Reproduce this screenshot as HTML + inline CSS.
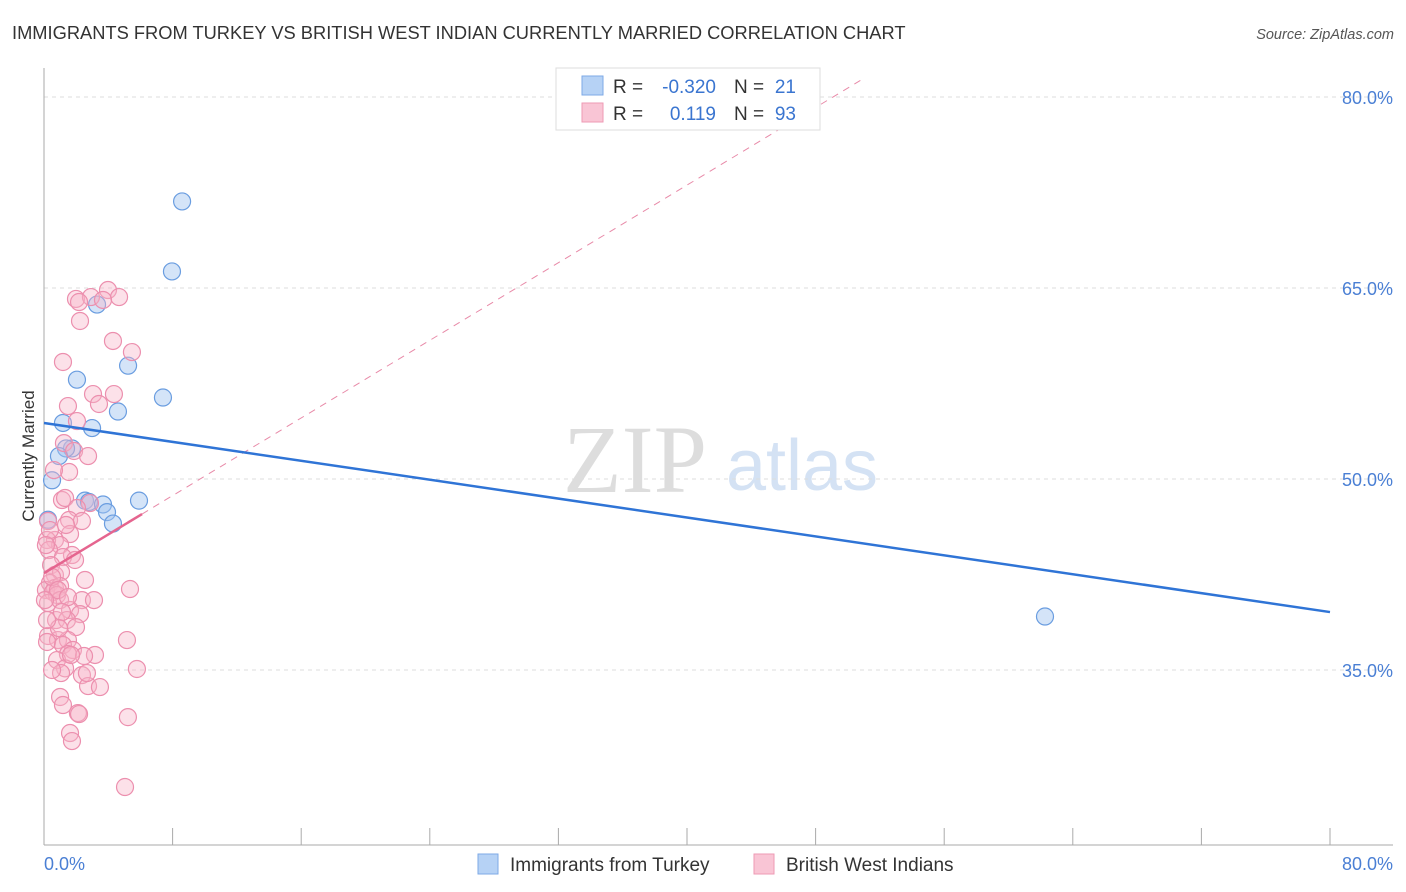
<!DOCTYPE html>
<html><head><meta charset="utf-8"><style>
body{margin:0;background:#fff;font-family:"Liberation Sans",sans-serif;}
svg{display:block}
</style></head><body>
<svg id="chart" width="1406" height="892" viewBox="0 0 1406 892">
<text x="12" y="39" font-size="18.3" fill="#333">IMMIGRANTS FROM TURKEY VS BRITISH WEST INDIAN CURRENTLY MARRIED CORRELATION CHART</text>
<text x="1394" y="39" font-size="14.5" fill="#555" font-style="italic" text-anchor="end">Source: ZipAtlas.com</text>
<g>
<text x="635" y="492" font-size="96" fill="#dddddd" font-family="Liberation Serif,serif" text-anchor="middle">ZIP</text>
<text x="802" y="490" font-size="72" fill="#d4e2f4" text-anchor="middle">atlas</text>
</g>
<g id="grid"></g>
<g id="axes"></g>
<g id="marks"></g>
<text transform="translate(34,456) rotate(-90)" font-size="17" fill="#333" text-anchor="middle">Currently Married</text>
<text x="44" y="870" font-size="18" fill="#4a7fd4">0.0%</text>
<text x="1393" y="870" font-size="18" fill="#4a7fd4" text-anchor="end">80.0%</text>
<g>
<rect x="556" y="68" width="264" height="62" fill="#fff" stroke="#ddd"/>
<rect x="582" y="76" width="21" height="19" fill="#b6d2f5" stroke="#7ea9e6"/>
<rect x="582" y="103" width="21" height="19" fill="#f9c5d5" stroke="#ee9ab4"/>
<text x="613" y="93" font-size="19" fill="#333">R =</text>
<text x="716" y="93" font-size="19" fill="#3a75d0" text-anchor="end">-0.320</text>
<text x="734" y="93" font-size="19" fill="#333">N =</text>
<text x="796" y="93" font-size="19" fill="#3a75d0" text-anchor="end">21</text>
<text x="613" y="120" font-size="19" fill="#333">R =</text>
<text x="716" y="120" font-size="19" fill="#3a75d0" text-anchor="end">0.119</text>
<text x="734" y="120" font-size="19" fill="#333">N =</text>
<text x="796" y="120" font-size="19" fill="#3a75d0" text-anchor="end">93</text>
</g>
<g>
<rect x="478" y="854" width="20" height="20" fill="#b6d2f5" stroke="#7ea9e6"/>
<text x="510" y="871" font-size="19" fill="#333">Immigrants from Turkey</text>
<rect x="754" y="854" width="20" height="20" fill="#f9c5d5" stroke="#ee9ab4"/>
<text x="786" y="871" font-size="19" fill="#333">British West Indians</text>
</g>
</svg>
<script>
const yTicks=[80,65,50,35];
const yTickLabels=["80.0%","65.0%","50.0%","35.0%"];
const xTicks=[0,8,16,24,32,40,48,56,64,72,80];
const blueX=[8.59,7.96,3.30,5.23,2.05,7.40,4.60,1.18,2.99,1.74,1.37,0.93,0.50,2.55,2.80,3.67,3.92,5.91,4.29,0.25,62.27];
const blueY=[71.8,66.3,63.7,58.9,57.8,56.4,55.3,54.4,54.0,52.4,52.4,51.8,49.9,48.3,48.2,48.0,47.4,48.3,46.5,46.8,39.2];
const pinkX=[3.98,1.99,2.92,2.18,4.67,3.67,2.24,4.29,5.47,1.18,3.05,4.35,3.42,1.49,2.05,1.24,1.87,2.74,1.56,1.12,1.31,2.86,2.05,1.56,2.36,0.25,1.62,0.68,0.19,1.00,1.74,0.31,1.18,0.44,0.68,1.06,5.35,0.37,0.68,1.00,0.12,0.56,0.81,2.36,0.25,1.00,1.62,2.24,0.75,1.43,1.99,0.25,0.87,1.49,5.16,0.19,1.18,1.80,1.49,3.17,0.81,2.49,1.31,1.06,2.36,2.74,5.78,2.67,3.48,5.22,2.11,2.18,1.62,1.74,5.04,0.37,0.12,0.50,0.87,1.49,0.06,1.12,0.93,1.68,0.50,1.00,1.18,1.93,1.37,2.55,3.11,0.19,0.62];
const pinkY=[64.84,64.14,64.29,63.90,64.29,64.06,62.41,60.84,59.97,59.19,56.67,56.67,55.89,55.73,54.55,52.82,52.20,51.80,50.55,48.35,48.51,48.11,47.72,46.78,46.70,46.70,45.68,45.21,45.21,44.81,44.03,44.42,43.87,43.24,42.46,42.69,41.36,41.83,41.44,41.59,41.28,41.12,40.89,40.49,40.26,40.49,39.71,39.39,38.92,38.92,38.37,37.67,37.35,37.35,37.35,37.20,36.96,36.57,36.25,36.18,35.78,36.10,35.13,34.76,34.60,33.74,35.08,34.76,33.66,31.30,31.62,31.54,30.05,29.42,25.81,45.99,44.81,42.30,41.28,40.73,40.49,39.55,38.29,36.18,35.00,32.88,32.25,43.64,46.39,42.07,40.49,38.92,50.70];
const blueTrend=[54.4,39.55];
const pinkTrend=[42.6,0.762];
const pinkSolidEnd=6.1, pinkDashEnd=50.8;

const NS="http://www.w3.org/2000/svg";
const sx=v=>44+v/80*1286;
const sy=v=>97+(80-v)*(191/15);
function mk(tag,attrs,parent){const e=document.createElementNS(NS,tag);for(const k in attrs)e.setAttribute(k,attrs[k]);parent.appendChild(e);return e;}
const grid=document.getElementById('grid'),axes=document.getElementById('axes'),marks=document.getElementById('marks');
yTicks.forEach((t,i)=>{
  const l=mk('line',{x1:44,x2:1393,y1:sy(t),y2:sy(t),stroke:'#ddd','stroke-dasharray':'4,4'},grid);
  
  
  const tx=mk('text',{x:1393,y:sy(t)+7,'font-size':18,fill:'#4a7fd4','text-anchor':'end'},grid);
  tx.textContent=yTickLabels[i];
  
  
});
const ya=mk('line',{x1:44,x2:44,y1:68,y2:845,stroke:'#aaa'},axes);


const xa=mk('line',{x1:44,x2:1393,y1:845,y2:845,stroke:'#aaa'},axes);


xTicks.forEach(t=>{
  const l=mk('line',{x1:sx(t),x2:sx(t),y1:828,y2:845,stroke:'#aaa'},axes);
  
  
});
blueX.forEach((x,i)=>{
  const c=mk('circle',{cx:sx(x),cy:sy(blueY[i]),r:8.5,fill:'rgba(160,195,240,0.45)',stroke:'#6a9de0','stroke-width':1.2},marks);
  
  
});
pinkX.forEach((x,i)=>{
  const c=mk('circle',{cx:sx(x),cy:sy(pinkY[i]),r:8.5,fill:'rgba(248,180,200,0.4)',stroke:'#ec8fae','stroke-width':1.2},marks);
  
  
});
const pd=mk('line',{x1:sx(pinkSolidEnd),y1:sy(pinkTrend[0]+pinkTrend[1]*pinkSolidEnd),x2:sx(pinkDashEnd),y2:sy(pinkTrend[0]+pinkTrend[1]*pinkDashEnd),stroke:'#e88aa8','stroke-width':1,'stroke-dasharray':'7,6'},marks);


const ps=mk('line',{x1:sx(0),y1:sy(pinkTrend[0]),x2:sx(pinkSolidEnd),y2:sy(pinkTrend[0]+pinkTrend[1]*pinkSolidEnd),stroke:'#e5658f','stroke-width':2.5},marks);


const bt=mk('line',{x1:sx(0),y1:sy(blueTrend[0]),x2:sx(80),y2:sy(blueTrend[1]),stroke:'#2f74d6','stroke-width':2.5},marks);


</script>
</body></html>
